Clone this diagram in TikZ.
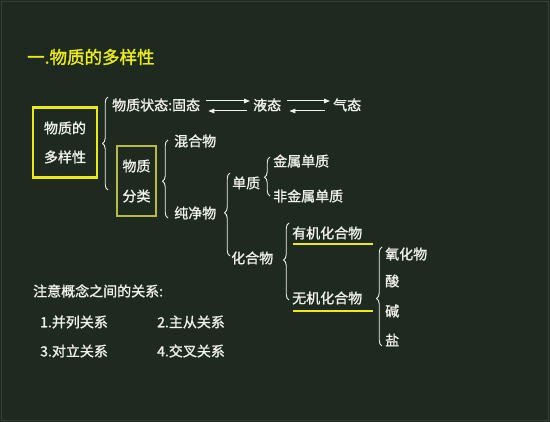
\documentclass[tikz,border=0pt]{standalone}
\usepackage{fontspec}
\newfontfamily\cjk[FakeBold=1.2]{Noto Sans CJK SC}
\newfontfamily\cjkt[FakeBold=1.6]{Noto Sans CJK SC}
\usetikzlibrary{decorations.pathreplacing,arrows.meta}
\definecolor{bg}{RGB}{30,42,31}
\definecolor{edgec}{RGB}{52,64,52}
\definecolor{ylw}{RGB}{235,235,25}
\definecolor{olv}{RGB}{185,185,70}
\definecolor{txt}{RGB}{242,242,236}
\begin{document}
\begin{tikzpicture}[x=1pt,y=-1pt,
  lbl/.style={text=txt,font=\cjk\fontsize{14}{16}\selectfont,inner sep=0pt,anchor=west},
  brc/.style={draw=txt,line width=0.9pt,decorate,decoration={brace,amplitude=5.5pt,aspect=#1}},
  brc/.default=0.5,
  arr/.style={draw=txt,line width=1pt,-{Triangle[length=6pt,width=4.5pt]}},
  uline/.style={draw=ylw,line width=2.6pt}]
\fill[bg] (0,0) rectangle (550,422);
\draw[edgec,line width=1.5pt] (1.5,1.5) rectangle (548.5,420.5);
\useasboundingbox (0,0) rectangle (550,422);

% title
\node[anchor=west,inner sep=0pt,text=ylw,font=\cjkt\fontsize{17.5}{20}\selectfont] (title) at (27,57) {一.物质的多样性};

% main boxes
\node[draw=ylw,line width=2.6pt,minimum width=64pt,minimum height=70pt,inner sep=0pt,align=center,
      text=txt,font=\cjk\fontsize{14}{29}\selectfont] (root) at (65,142.5) {物质的\\多样性};
\node[draw=olv,line width=1.3pt,minimum width=39pt,minimum height=70pt,inner sep=0pt,align=center,
      text=txt,font=\cjk\fontsize{14}{30}\selectfont] (fenlei) at (136.5,181) {物质\\分类};

% state row
\node[lbl] (gutai) at (112,105) {物质状态:固态};
\node[lbl] (yetai) at (253,105) {液态};
\node[lbl] (qitai) at (333,105) {气态};
\draw[arr] ([xshift=6pt,yshift=4pt]gutai.east) -- ([xshift=-3pt,yshift=4pt]yetai.west);
\draw[arr] ([xshift=-6pt,yshift=-6pt]yetai.west) -- ([xshift=8pt,yshift=-6pt]gutai.east);
\draw[arr] ([xshift=6pt,yshift=4pt]yetai.east) -- ([xshift=-3pt,yshift=4pt]qitai.west);
\draw[arr] ([xshift=-8pt,yshift=-6pt]qitai.west) -- ([xshift=8pt,yshift=-6pt]yetai.east);

% classification
\node[lbl] (hunhe) at (174,141) {混合物};
\node[lbl] (chunjing) at (174,213) {纯净物};
\node[lbl] (danzhi) at (232,183) {单质};
\node[lbl] (jinshu) at (273,161) {金属单质};
\node[lbl] (feijinshu) at (273,196) {非金属单质};
\node[lbl] (huahe) at (231,258) {化合物};
\node[lbl] (youji) at (292,233) {有机化合物};
\node[lbl] (wuji) at (292,298) {无机化合物};
\node[lbl] (yanghua) at (385,254) {氧化物};
\node[lbl] (suan) at (385,281) {酸};
\node[lbl] (jian) at (385,311) {碱};
\node[lbl] (yan) at (385,340) {盐};

\coordinate (u1a) at (293,244); \coordinate (u1b) at (373,244);
\coordinate (u2a) at (293,311); \coordinate (u2b) at (373,311);
\draw[uline] (u1a) -- (u1b);
\draw[uline] (u2a) -- (u2b);

% braces
\coordinate (b1a) at (108,190); \coordinate (b1b) at (108,97);
\coordinate (b2a) at (168,218); \coordinate (b2b) at (168,140);
\coordinate (b3a) at (230,256); \coordinate (b3b) at (230,173);
\coordinate (b4a) at (270,196); \coordinate (b4b) at (270,157);
\coordinate (b5a) at (289,300); \coordinate (b5b) at (289,223);
\coordinate (b6a) at (382,346); \coordinate (b6b) at (382,247);
\draw[brc=0.5] (b1a) -- (b1b);
\draw[brc=0.47] (b2a) -- (b2b);
\draw[brc=0.52] (b3a) -- (b3b);
\draw[brc=0.48] (b4a) -- (b4b);
\draw[brc=0.52] (b5a) -- (b5b);
\draw[brc=0.48] (b6a) -- (b6b);

% notes
\node[lbl] (zhuyi) at (33,291) {注意概念之间的关系:};
\node[lbl] (r1) at (40,322) {1.并列关系};
\node[lbl] (r2) at (157,322) {2.主从关系};
\node[lbl] (r3) at (40,351) {3.对立关系};
\node[lbl] (r4) at (157,351) {4.交叉关系};
\end{tikzpicture}
\end{document}
